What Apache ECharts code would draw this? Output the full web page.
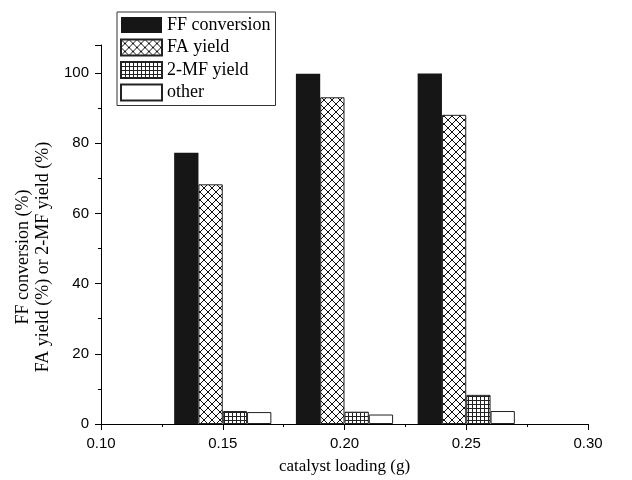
<!DOCTYPE html>
<html>
<head>
<meta charset="utf-8">
<script src="https://cdn.jsdelivr.net/npm/echarts@6/dist/echarts.min.js"></script>
<style>
  html, body { margin: 0; padding: 0; background: #fff; }
  #chart { width: 632px; height: 480px; }
</style>
</head>
<body>
<div id="chart"></div>
<script>
// catalyst loadings (g) and the four measured quantities (%)
var loadings = [0.15, 0.20, 0.25];
var ffConversion = [77.3, 99.8, 99.9];
var faYield = [68.3, 93.1, 88.1];
var mfYield = [3.7, 3.5, 8.3];
var otherYield = [3.4, 2.7, 3.7];
var yTicks = [0, 20, 40, 60, 80, 100];

// hatch patterns
function crossHatch() {
  var c = document.createElement('canvas');
  c.width = 8; c.height = 8;
  var ctx = c.getContext('2d');
  ctx.fillStyle = '#fff';
  ctx.fillRect(0, 0, 8, 8);
  ctx.strokeStyle = '#111';
  ctx.lineWidth = 1;
  ctx.beginPath();
  ctx.moveTo(-1, -1); ctx.lineTo(9, 9);
  ctx.moveTo(-1, 9); ctx.lineTo(9, -1);
  ctx.stroke();
  return c;
}
function gridHatch() {
  var c = document.createElement('canvas');
  c.width = 4; c.height = 4;
  var ctx = c.getContext('2d');
  ctx.fillStyle = '#fff';
  ctx.fillRect(0, 0, 4, 4);
  ctx.strokeStyle = '#222';
  ctx.lineWidth = 1;
  ctx.beginPath();
  ctx.moveTo(0.5, 0); ctx.lineTo(0.5, 4);
  ctx.moveTo(0, 0.5); ctx.lineTo(4, 0.5);
  ctx.stroke();
  return c;
}

function pairs(vals) {
  return loadings.map(function (x, i) { return [x, vals[i]]; });
}

var chart = echarts.init(document.getElementById('chart'));
var serif = 'Liberation Serif';
var sans = 'Liberation Sans';
var barW = 24.3;

var option = {
  animation: false,
  backgroundColor: '#fff',
  grid: { left: 101, right: 44, top: 45, bottom: 56, containLabel: false, outerBoundsMode: 'none' },
  legend: {
    orient: 'vertical',
    left: 117,
    top: 12,
    padding: [4, 5, 4, 3],
    itemWidth: 41,
    itemHeight: 16,
    itemGap: 4.5,
    borderColor: '#333',
    borderWidth: 1,
    icon: 'rect',
    textStyle: { fontFamily: serif, fontSize: 18, color: '#000', lineHeight: 18 },
    data: ['FF conversion', 'FA yield', '2-MF yield', 'other']
  },
  xAxis: {
    type: 'value',
    min: 0.10,
    max: 0.30,
    interval: 0.05,
    name: 'catalyst loading (g)',
    nameLocation: 'middle',
    nameGap: 34,
    nameTextStyle: { fontFamily: serif, fontSize: 17, color: '#000' },
    axisLine: { show: true, onZero: false, lineStyle: { color: '#000', width: 1 } },
    axisTick: { show: true, length: 6, lineStyle: { color: '#000' } },
    minorTick: { show: true, splitNumber: 2, length: 3, lineStyle: { color: '#000' } },
    splitLine: { show: false },
    axisLabel: {
      margin: 12,
      fontFamily: sans,
      fontSize: 15,
      color: '#000',
      formatter: function (v) { return v.toFixed(2); }
    }
  },
  yAxis: {
    type: 'value',
    min: 0,
    max: 108,
    interval: 20,
    axisLine: { show: true, lineStyle: { color: '#000', width: 1 } },
    axisTick: { show: true, length: 6, lineStyle: { color: '#000' } },
    minorTick: { show: true, splitNumber: 2, length: 3, lineStyle: { color: '#000' } },
    splitLine: { show: false },
    axisLabel: {
      margin: 12,
      fontFamily: sans,
      fontSize: 15,
      color: '#000',
      formatter: function (v) { return yTicks.indexOf(v) >= 0 ? String(v) : ''; }
    }
  },
  graphic: [{
    type: 'text',
    x: 33,
    y: 257,
    rotation: Math.PI / 2,
    style: {
      text: 'FF conversion (%)\nFA yield (%) or 2-MF yield (%)',
      fontFamily: serif,
      fontSize: 18,
      lineHeight: 20,
      fill: '#000',
      align: 'center',
      verticalAlign: 'middle'
    }
  }],
  series: [
    {
      name: 'FF conversion', type: 'bar', barWidth: barW, barGap: '0%',
      itemStyle: { color: '#161616' },
      data: pairs(ffConversion)
    },
    {
      name: 'FA yield', type: 'bar', barWidth: barW, barGap: '0%',
      itemStyle: { color: { image: crossHatch(), repeat: 'repeat' }, borderColor: '#222', borderWidth: 1 },
      data: pairs(faYield)
    },
    {
      name: '2-MF yield', type: 'bar', barWidth: barW, barGap: '0%',
      itemStyle: { color: { image: gridHatch(), repeat: 'repeat' }, borderColor: '#222', borderWidth: 1 },
      data: pairs(mfYield)
    },
    {
      name: 'other', type: 'bar', barWidth: barW, barGap: '0%',
      itemStyle: { color: '#fff', borderColor: '#222', borderWidth: 1 },
      data: pairs(otherYield)
    }
  ]
};
chart.setOption(option);
</script>
</body>
</html>
